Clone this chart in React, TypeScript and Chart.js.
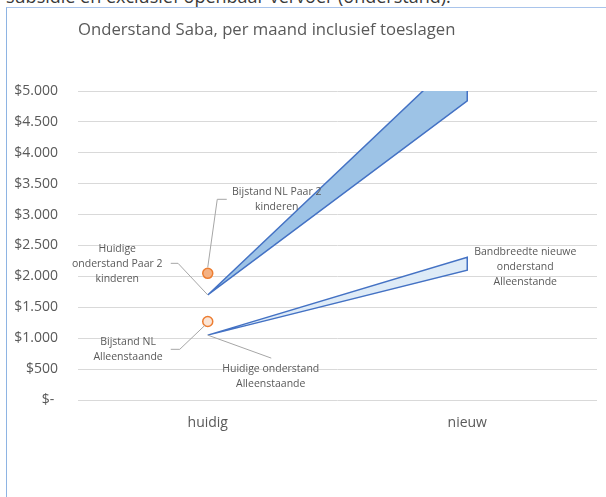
import React, { useEffect, useRef } from 'react';
import { Chart, registerables } from 'chart.js';

Chart.register(...registerables);

// ---- data ----
const categories = ['huidig', 'nieuw'];
const paarLow = [1700, 4840];
const paarHigh = [1700, 5680];
const alleenLow = [1050, 2100];
const alleenHigh = [1050, 2310];
const bijstandPaar = [2050, null];
const bijstandAlleen = [1270, null];
const yMin = 0;
const yMax = 5000;
const yStep = 500;

const headerText = 'subsidie en exclusief openbaar vervoer (onderstand).';
const chartTitle = 'Onderstand Saba, per maand inclusief toeslagen';
const labelBijstandPaar = ['Bijstand NL Paar 2', 'kinderen'];
const labelHuidigPaar = ['Huidige', 'onderstand Paar 2', 'kinderen'];
const labelBijstandAlleen = ['Bijstand NL', 'Alleenstaande'];
const labelHuidigAlleen = ['Huidige onderstand', 'Alleenstaande'];
const labelBandAlleen = ['Bandbreedte nieuwe', 'onderstand', 'Alleenstande'];

const FONT = '"Open Sans", sans-serif';
const TEXT = '#595959';

function fmt(v: number): string {
  if (v === 0) return '$- ';
  return '$' + String(v).replace(/\B(?=(\d{3})+(?!\d))/g, '.');
}

const overlayPlugin = {
  id: 'overlay',
  afterDatasetsDraw(chart: any) {
    const { ctx, chartArea } = chart;
    const x = chart.scales.x;
    const y = chart.scales.y;
    ctx.save();
    // title
    ctx.font = `16.7px ${FONT}`;
    ctx.fillStyle = TEXT;
    ctx.textAlign = 'left';
    ctx.textBaseline = 'middle';
    ctx.fillText(chartTitle, chartArea.left, 30);

    const x0 = x.getPixelForValue(0);
    const x1 = x.getPixelForValue(1);
    const notes = [
      {
        ax: x0, ay: y.getPixelForValue(bijstandPaar[0] as number),
        leader: [[0, -6], [9.5, -74], [19, -74]],
        lines: labelBijstandPaar, cx: 69, cy: -81,
      },
      {
        ax: x0, ay: y.getPixelForValue(paarLow[0]),
        leader: [[0, 0], [-29.7, -31.6], [-37, -31.6]],
        lines: labelHuidigPaar, cx: -90.5, cy: -45.6,
      },
      {
        ax: x0, ay: y.getPixelForValue(bijstandAlleen[0] as number),
        leader: [[-3, 4], [-28, 27.8], [-37, 27.8]],
        lines: labelBijstandAlleen, cx: -79.7, cy: 20.8,
      },
      {
        ax: x0, ay: y.getPixelForValue(alleenLow[0]),
        leader: [[0, 0], [63.5, 23]],
        lines: labelHuidigAlleen, cx: 63, cy: 34,
      },
      {
        ax: x1, ay: y.getPixelForValue((alleenLow[1] + alleenHigh[1]) / 2),
        leader: [],
        lines: labelBandAlleen, cx: 58, cy: -12,
      },
    ];
    ctx.strokeStyle = '#a6a6a6';
    ctx.lineWidth = 1;
    ctx.font = `10.5px ${FONT}`;
    ctx.textAlign = 'center';
    for (const n of notes) {
      if (n.leader.length) {
        ctx.beginPath();
        n.leader.forEach((p, i) => {
          const px = n.ax + p[0];
          const py = n.ay + p[1];
          if (i === 0) ctx.moveTo(px, py);
          else ctx.lineTo(px, py);
        });
        ctx.stroke();
      }
      n.lines.forEach((t, i) => {
        ctx.fillText(t, n.ax + n.cx, n.ay + n.cy + i * 15);
      });
    }
    ctx.restore();
  },
};

export default function App() {
  const ref = useRef<HTMLCanvasElement | null>(null);

  useEffect(() => {
    if (!ref.current) return;
    Chart.defaults.font.family = FONT;
    Chart.defaults.color = TEXT;

    const outline = (lo: number[], hi: number[]) => [
      { x: categories[0], y: lo[0] },
      { x: categories[1], y: hi[1] },
      { x: categories[1], y: lo[1] },
      { x: categories[0], y: lo[0] },
    ];

    const chart = new Chart(ref.current, {
      type: 'line',
      data: {
        labels: categories,
        datasets: [
          {
            label: 'Bijstand NL Paar 2 kinderen',
            data: bijstandPaar,
            showLine: false,
            pointRadius: 5,
            pointBorderWidth: 1.5,
            pointBackgroundColor: '#f4b183',
            pointBorderColor: '#ed7d31',
          },
          {
            label: 'Bijstand NL Alleenstaande',
            data: bijstandAlleen,
            showLine: false,
            pointRadius: 5,
            pointBorderWidth: 1.5,
            pointBackgroundColor: '#fbe5d6',
            pointBorderColor: '#ed7d31',
          },
          {
            label: 'Paar outline',
            data: outline(paarLow, paarHigh) as any,
            borderColor: '#4472c4',
            borderWidth: 1.5,
            pointRadius: 0,
            fill: false,
            clip: 0,
          },
          {
            label: 'Alleen outline',
            data: outline(alleenLow, alleenHigh) as any,
            borderColor: '#4472c4',
            borderWidth: 1.5,
            pointRadius: 0,
            fill: false,
            clip: 0,
          },
          {
            label: 'Paar laag',
            data: paarLow,
            borderWidth: 0,
            borderColor: 'rgba(0,0,0,0)',
            pointRadius: 0,
            fill: false,
            clip: 0,
          },
          {
            label: 'Paar hoog',
            data: paarHigh,
            borderWidth: 0,
            borderColor: 'rgba(0,0,0,0)',
            backgroundColor: '#9dc3e6',
            pointRadius: 0,
            fill: '-1',
            clip: 0,
          },
          {
            label: 'Alleen laag',
            data: alleenLow,
            borderWidth: 0,
            borderColor: 'rgba(0,0,0,0)',
            pointRadius: 0,
            fill: false,
            clip: 0,
          },
          {
            label: 'Alleen hoog',
            data: alleenHigh,
            borderWidth: 0,
            borderColor: 'rgba(0,0,0,0)',
            backgroundColor: '#deebf7',
            pointRadius: 0,
            fill: '-1',
            clip: 0,
          },
        ] as any,
      },
      options: {
        responsive: false,
        animation: false,
        devicePixelRatio: 1,
        events: [],
        layout: { padding: { left: 0, right: 9, top: 91, bottom: 57 } },
        plugins: {
          legend: { display: false },
          tooltip: { enabled: false },
          title: { display: false },
        },
        scales: {
          x: {
            type: 'category',
            offset: true,
            grid: { display: false, drawTicks: false },
            border: { display: false },
            ticks: { font: { size: 14 }, color: TEXT, padding: 15 },
            afterFit: (s: any) => { s.height = 40; },
          },
          y: {
            min: yMin,
            max: yMax,
            grid: { color: '#d9d9d9', lineWidth: 1, drawTicks: false },
            border: { display: false },
            ticks: {
              stepSize: yStep,
              font: { size: 14 },
              color: TEXT,
              padding: 20,
              callback: (v: any) => fmt(Number(v)),
            },
            afterFit: (s: any) => { s.width = 78; },
          },
        },
      },
      plugins: [overlayPlugin],
    });
    return () => chart.destroy();
  }, []);

  return (
    <div style={{ position: 'absolute', left: 0, top: 0, width: 606, height: 497, overflow: 'hidden', background: '#fff' }}>
      <div
        style={{
          position: 'absolute', left: 6, top: -13, whiteSpace: 'nowrap',
          fontFamily: FONT, fontSize: 18, lineHeight: '18px', color: '#3a3a3a',
        }}
      >
        {headerText}
      </div>
      <div
        style={{
          position: 'absolute', left: 6, top: 7, width: 700, height: 600,
          borderLeft: '1px solid #8eb4e3', borderTop: '1px solid #a9c4eb',
        }}
      />
      <canvas ref={ref} width={606} height={497} style={{ position: 'absolute', left: 0, top: 0, width: 606, height: 497 }} />
    </div>
  );
}
